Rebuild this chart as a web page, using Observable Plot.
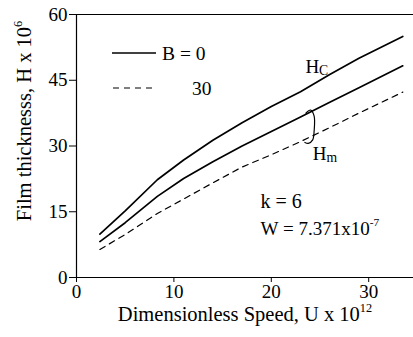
<!DOCTYPE html>
<html><head><meta charset="utf-8">
<script src="https://cdn.jsdelivr.net/npm/d3@7"></script>
<script src="https://cdn.jsdelivr.net/npm/@observablehq/plot@0.6"></script>
<style>
html,body{margin:0;padding:0;background:#fff;}
#chart svg{display:block;}
</style></head><body><div id="chart"></div>
<script>
// Data
const speedU = [2.4, 5, 8.3, 11, 14, 17, 20, 23, 26, 29, 33.5];
const hcB0   = [9.9, 15.2, 22.3, 26.8, 31.3, 35.3, 39.0, 42.4, 46.3, 50.0, 55.0];
const hmB0   = [8.2, 12.5, 18.5, 22.6, 26.4, 30.0, 33.3, 36.6, 40.0, 43.3, 48.3];
const hmB30  = [6.4, 9.8, 14.6, 17.9, 21.6, 25.2, 28.0, 31.0, 34.2, 37.5, 42.3];
const xTicks = [0, 10, 20, 30];
const yTicks = [0, 15, 30, 45, 60];
const legendLabels = ["B = 0", "30"];

const solidRows = [
  ...speedU.map((u, i) => ({u, h: hcB0[i], series: "Hc"})),
  ...speedU.map((u, i) => ({u, h: hmB0[i], series: "Hm"}))
];
const dashedRows = speedU.map((u, i) => ({u, h: hmB30[i], series: "Hm30"}));

const FONT = "Liberation Serif, Times New Roman, serif";
const FS = 19;
const bracket = [
  {u: 23.55, h: 37.5}, {u: 24.05, h: 38.2}, {u: 24.4, h: 36.8},
  {u: 24.4, h: 33.5}, {u: 24.25, h: 31.4}, {u: 23.8, h: 30.6}, {u: 23.45, h: 30.8}
];

const plot = Plot.plot({
  width: 413, height: 337,
  marginLeft: 76, marginTop: 14, marginBottom: 60, marginRight: 0,
  style: {fontFamily: FONT, fontSize: FS + "px", color: "black", background: "white"},
  x: {domain: [0, 34.6], label: null},
  y: {domain: [0, 60], label: null},
  marks: [
    Plot.ruleY([0, 60], {stroke: "black", strokeWidth: 1.2}),
    Plot.ruleX([0], {stroke: "black", strokeWidth: 1.2}),
    Plot.axisX(xTicks, {tickSize: 5, tickPadding: 2, fontSize: FS, label: null}),
    Plot.axisY(yTicks, {tickSize: 7, tickPadding: 2, fontSize: FS, label: null}),
    Plot.line(solidRows, {x: "u", y: "h", z: "series", stroke: "black", strokeWidth: 1.7}),
    Plot.line(dashedRows, {x: "u", y: "h", z: "series", stroke: "black", strokeWidth: 1.2, strokeDasharray: "6,5"}),
    Plot.line(bracket, {x: "u", y: "h", curve: "catmull-rom", stroke: "black", strokeWidth: 1.2}),
    Plot.text(["H_C"], {x: 23.5, y: 48.1, text: d => d, textAnchor: "start", fontSize: FS}),
    Plot.text(["H_m"], {x: 24.25, y: 28.3, text: d => d, textAnchor: "start", fontSize: FS}),
    Plot.text(["k = 6"], {x: 18.9, y: 17.4, text: d => d, textAnchor: "start", fontSize: 20}),
    Plot.text(["W = 7.371x10^-7"], {x: 18.9, y: 11.1, text: d => d, textAnchor: "start", fontSize: FS}),
    Plot.text(["Dimensionless Speed, U x 10^12"], {frameAnchor: "bottom", textAnchor: "middle", lineAnchor: "middle", text: d => d, dy: 37, fontSize: 20.5}),
    Plot.text(["Film thicknesss, H x 10^6"], {frameAnchor: "left", textAnchor: "middle", lineAnchor: "middle", text: d => d, rotate: -90, dx: -52, dy: -25, fontSize: 20.5})
  ]
});

// Legend (key lines and labels) placed in pixel space
const svg = d3.select(plot);
const legendKeys = [
  {x1: 112, x2: 156, y: 53, dash: null, sw: 1.7, tx: 162},
  {x1: 113, x2: 153, y: 88, dash: "6,5", sw: 1.2, tx: 192}
];
legendKeys.forEach((k, i) => {
  svg.append("line").attr("x1", k.x1).attr("x2", k.x2).attr("y1", k.y).attr("y2", k.y)
    .attr("stroke", "black").attr("stroke-width", k.sw).attr("stroke-dasharray", k.dash);
  svg.append("text").attr("x", k.tx).attr("y", k.y).attr("dy", "0.35em")
    .attr("text-anchor", "start")
    .attr("font-family", FONT).attr("font-size", 19.5).attr("fill", "black").text(legendLabels[i]);
});

// Superscripts / subscripts
const NS = "http://www.w3.org/2000/svg";
plot.querySelectorAll("text").forEach(t => {
  const s = t.textContent;
  const m = s.match(/^(.*?)([\^_])(.*)$/);
  if (!m) return;
  t.textContent = "";
  const a = document.createElementNS(NS, "tspan"); a.textContent = m[1]; t.appendChild(a);
  const b = document.createElementNS(NS, "tspan"); b.textContent = m[3];
  if (m[2] === "^") { b.setAttribute("font-size", "0.6em"); b.setAttribute("dy", "-0.75em"); }
  else { b.setAttribute("font-size", "0.72em"); b.setAttribute("dy", "0.15em"); }
  t.appendChild(b);
});

document.getElementById("chart").appendChild(plot);
</script></body></html>
